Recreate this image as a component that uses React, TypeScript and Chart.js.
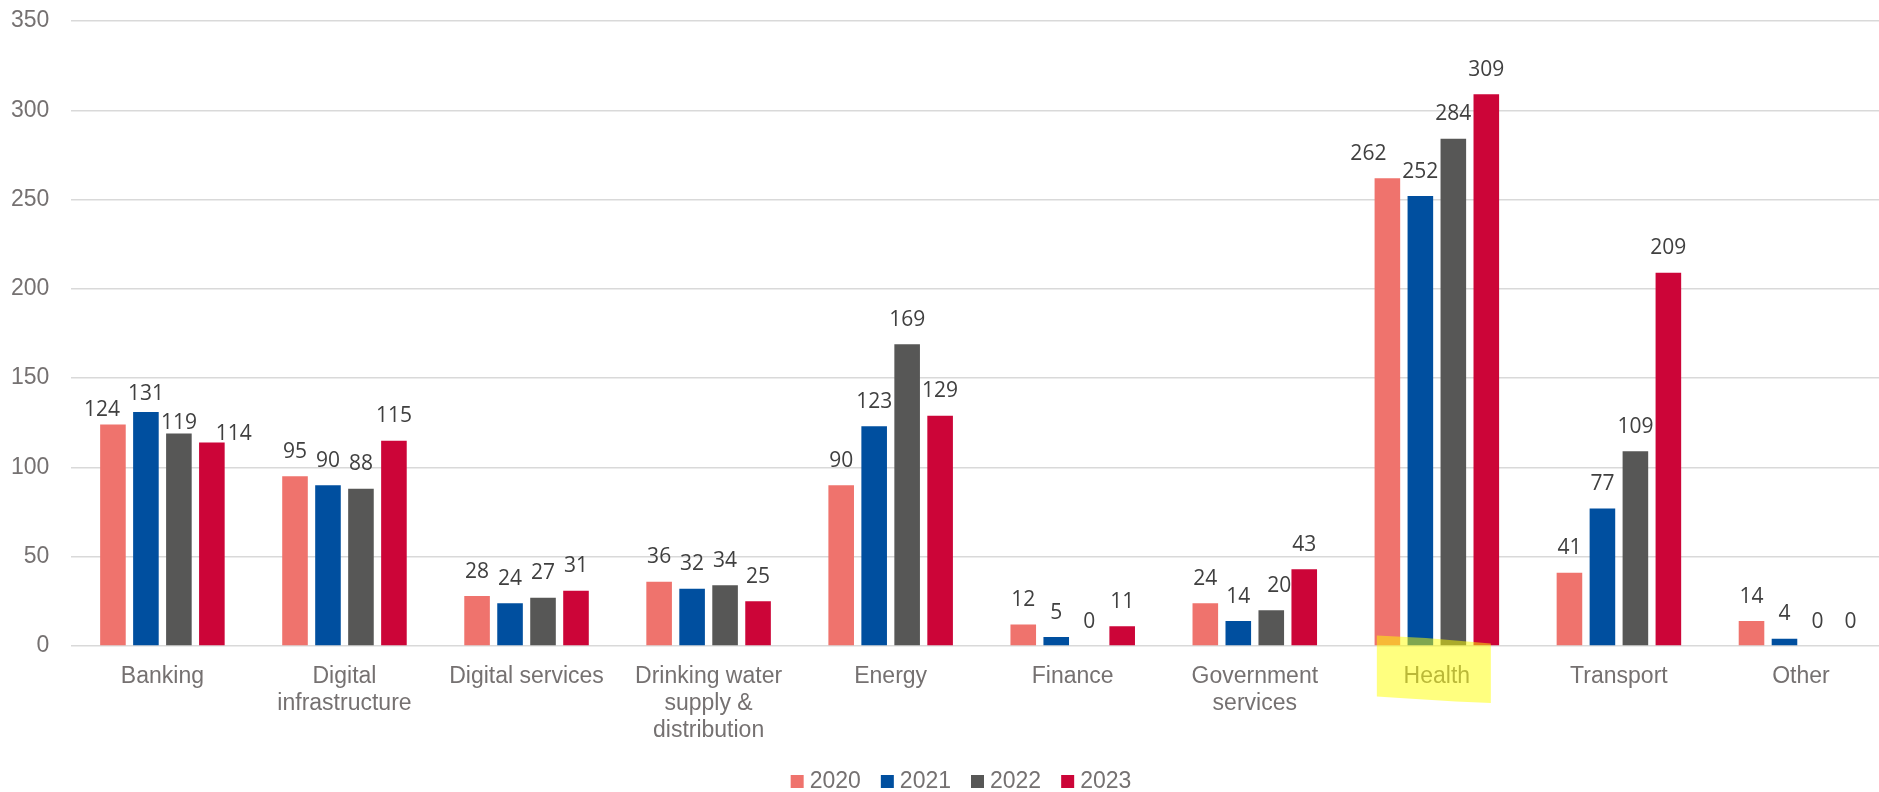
import React, { useEffect, useRef } from "react";
import { Chart, registerables } from "chart.js";

Chart.register(...registerables);

const categories: string[][] = [
  ["Banking"],
  ["Digital", "infrastructure"],
  ["Digital services"],
  ["Drinking water", "supply &", "distribution"],
  ["Energy"],
  ["Finance"],
  ["Government", "services"],
  ["Health"],
  ["Transport"],
  ["Other"],
];

const seriesNames = ["2020", "2021", "2022", "2023"];
const values2020 = [124, 95, 28, 36, 90, 12, 24, 262, 41, 14];
const values2021 = [131, 90, 24, 32, 123, 5, 14, 252, 77, 4];
const values2022 = [119, 88, 27, 34, 169, 0, 20, 284, 109, 0];
const values2023 = [114, 115, 31, 25, 129, 11, 43, 309, 209, 0];
const seriesColors = ["#EF736D", "#004F9F", "#575756", "#CC0538"];

const yMin = 0;
const yMax = 350;
const yStep = 50;
const highlightIndex = 7; // "Health"

// manually nudged data labels: [seriesIndex, categoryIndex, dx, gapAboveBar]
const labelNudges: [number, number, number, number][] = [
  [0, 0, -11, 8.3],
  [1, 0, 0, 11.7],
  [2, 0, 0, 4.3],
  [3, 0, 22, 2.3],
  [0, 7, -19, 18],
  [2, 6, 8, 18.5],
];
const DEFAULT_GAP = 18.5;

const AXIS_FONT = "Arial, 'Liberation Sans', sans-serif";
const LABEL_FONT = "'Open Sans', 'Noto Sans', sans-serif";
const AXIS_COLOR = "#757171";

const dataLabelPlugin = {
  id: "dataLabels",
  afterDatasetsDraw(chart: any) {
    const ctx = chart.ctx;
    ctx.save();
    ctx.font = `21px ${LABEL_FONT}`;
    ctx.fillStyle = "#404040";
    ctx.textAlign = "center";
    ctx.textBaseline = "alphabetic";
    chart.data.datasets.forEach((ds: any, i: number) => {
      const meta = chart.getDatasetMeta(i);
      meta.data.forEach((el: any, j: number) => {
        const n = labelNudges.find((l) => l[0] === i && l[1] === j);
        const dx = n ? n[2] : 0;
        const gap = n ? n[3] : DEFAULT_GAP;
        ctx.fillText(String(ds.data[j]), el.x + dx, el.y - gap);
      });
    });
    ctx.restore();
  },
};

const highlightPlugin = {
  id: "highlight",
  afterDraw(chart: any) {
    const ctx = chart.ctx;
    const cx = chart.scales.x.getPixelForValue(highlightIndex);
    const base = chart.scales.y.getPixelForValue(0);
    const pts: [number, number][] = [
      [-60, -10.5],
      [-11, -8],
      [54, -2.5],
      [54, 57],
      [19, 55.5],
      [-37, 52],
      [-60, 50.5],
    ];
    ctx.save();
    ctx.fillStyle = "rgba(255,255,0,0.5)";
    ctx.beginPath();
    pts.forEach(([dx, dy], i) => {
      if (i === 0) ctx.moveTo(cx + dx, base + dy);
      else ctx.lineTo(cx + dx, base + dy);
    });
    ctx.closePath();
    ctx.fill();
    ctx.restore();
  },
};

const legendPlugin = {
  id: "customLegend",
  afterDraw(chart: any) {
    const ctx = chart.ctx;
    ctx.save();
    ctx.font = `23px ${AXIS_FONT}`;
    const box = 13;
    const gap = 6;
    const spacing = 20;
    const items = chart.data.datasets.map((ds: any) => ({
      text: ds.label,
      color: ds.backgroundColor,
      w: ctx.measureText(ds.label).width,
    }));
    const total =
      items.reduce((s: number, it: any) => s + box + gap + it.w, 0) +
      spacing * (items.length - 1);
    let x = chart.width / 2 - total / 2;
    const baseline = 788;
    items.forEach((it: any) => {
      ctx.fillStyle = it.color;
      ctx.fillRect(x, 775, box, box);
      ctx.fillStyle = AXIS_COLOR;
      ctx.textAlign = "left";
      ctx.textBaseline = "alphabetic";
      ctx.fillText(it.text, x + box + gap, baseline);
      x += box + gap + it.w + spacing;
    });
    ctx.restore();
  },
};

export default function App() {
  const ref = useRef<HTMLCanvasElement>(null);

  useEffect(() => {
    if (!ref.current) return;
    const allValues = [values2020, values2021, values2022, values2023];
    const chart = new Chart(ref.current, {
      type: "bar",
      data: {
        labels: categories,
        datasets: seriesNames.map((name, i) => ({
          label: name,
          data: allValues[i],
          backgroundColor: seriesColors[i],
          borderWidth: 0,
          categoryPercentage: 0.7245,
          barPercentage: 0.776,
        })),
      },
      options: {
        animation: false,
        responsive: false,
        devicePixelRatio: 1,
        layout: { padding: { top: 21, left: 8, right: 30, bottom: 31 } },
        plugins: {
          legend: { display: false },
          tooltip: { enabled: false },
        },
        scales: {
          x: {
            grid: { display: false, drawTicks: false },
            border: { display: false },
            ticks: {
              color: AXIS_COLOR,
              padding: 17,
              maxRotation: 0,
              autoSkip: false,
              font: { family: AXIS_FONT, size: 23, lineHeight: 27 / 23 },
            },
          },
          y: {
            min: yMin,
            max: yMax,
            grid: {
              color: "#D9D9D9",
              lineWidth: 1.5,
              drawTicks: true,
              tickLength: 19,
              tickColor: "rgba(0,0,0,0)",
            },
            border: { display: false },
            ticks: {
              stepSize: yStep,
              color: AXIS_COLOR,
              padding: 3,
              font: { family: AXIS_FONT, size: 23 },
            },
          },
        },
      },
      plugins: [dataLabelPlugin, highlightPlugin, legendPlugin],
    });
    return () => chart.destroy();
  }, []);

  return (
    <div
      style={{
        position: "fixed",
        left: 0,
        top: 0,
        width: 1879,
        height: 792,
        overflow: "hidden",
        background: "#fff",
      }}
    >
      <canvas
        ref={ref}
        width={1922}
        height={792}
        style={{ display: "block", width: 1922, height: 792 }}
      />
    </div>
  );
}
